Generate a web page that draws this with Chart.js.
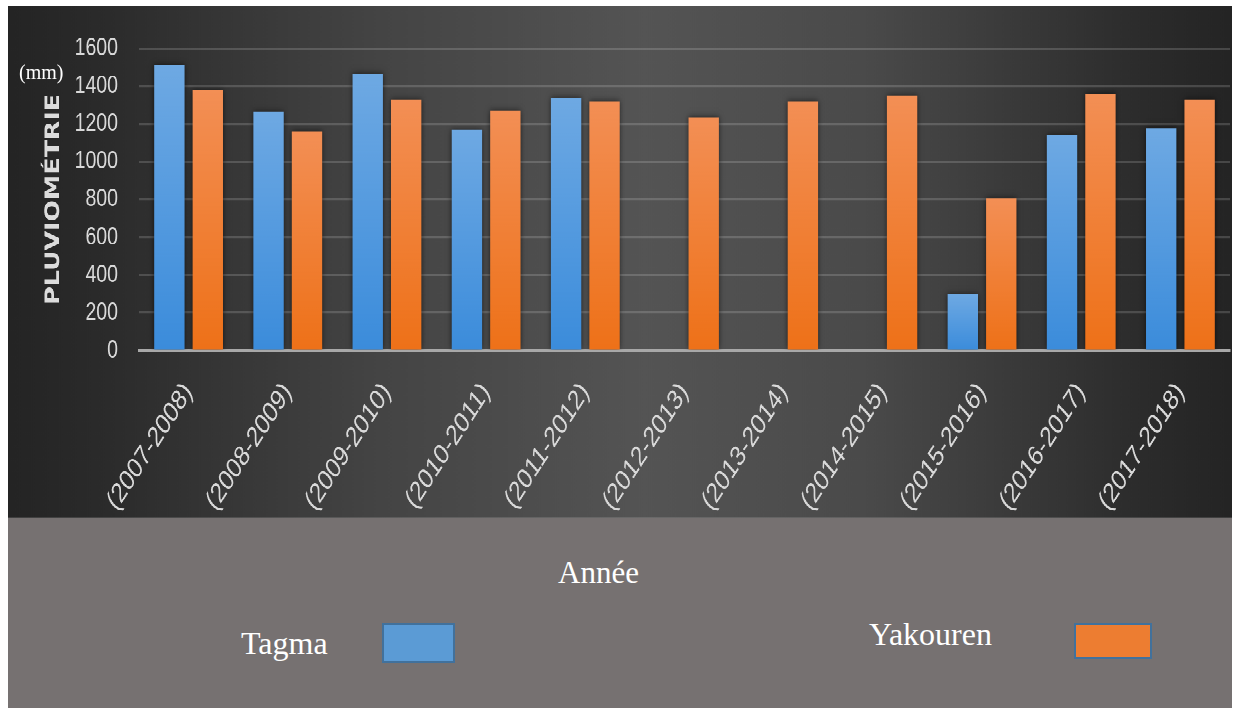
<!DOCTYPE html>
<html>
<head>
<meta charset="utf-8">
<script src="https://cdn.jsdelivr.net/npm/chart.js@4.4.1/dist/chart.umd.min.js"></script>
<style>
  html, body { margin: 0; padding: 0; background: #ffffff; width: 1242px; height: 709px; overflow: hidden; }
  /* chart panel: drawn at natural size, then stretched vertically */
  #plot {
    position: absolute; left: 8px; top: 6px; width: 1224px; height: 394px;
    transform-origin: 0 0; transform: scaleY(1.2995);
    background: linear-gradient(to right, #242424 0%, #2b2b2b 8%, #444444 30%, #545454 52%, #4a4a4a 70%, #2b2b2b 93%, #242424 100%);
  }
  #bottomPanel { position: absolute; left: 8px; top: 518px; width: 1224px; height: 190px; background: #767171; }
  .txt { position: absolute; color: #ffffff; font-family: "Liberation Serif", "Times New Roman", serif; line-height: 1; white-space: nowrap; }
  .key { position: absolute; box-sizing: border-box; border: 2px solid #41719c; }
</style>
</head>
<body>
<div id="plot"><canvas id="chart"></canvas></div>
<div class="txt" style="left:19px; top:62px; font-size:20px;">(mm)</div>
<div id="bottomPanel"></div>
<div class="txt" style="left:558px; top:557px; font-size:31px;">Année</div>
<div class="txt" style="left:241px; top:627px; font-size:32px;">Tagma</div>
<div class="key" id="keyTagma" style="left:382px; top:623px; width:73px; height:40px;"></div>
<div class="txt" style="left:869px; top:618px; font-size:32px;">Yakouren</div>
<div class="key" id="keyYakouren" style="left:1074px; top:623px; width:78px; height:36px;"></div>

<script>
// Hydrological years
const categories = ['(2007-2008)', '(2008-2009)', '(2009-2010)', '(2010-2011)', '(2011-2012)', '(2012-2013)',
                    '(2013-2014)', '(2014-2015)', '(2015-2016)', '(2016-2017)', '(2017-2018)'];
// Annual rainfall (mm) per station; null = no record
const tagma    = [1512, 1265, 1466, 1168, 1339, null, null, null, 296, 1140, 1177];
const yakouren = [1378, 1159, 1330, 1272, 1321, 1235, 1321, 1351, 805, 1360, 1330];
// Value axis ticks and their labels
const yTicks = [0, 200, 400, 600, 800, 1000, 1200, 1400, 1600];
const yTickLabels = ['0', '200', '400', '600', '800', '1000', '1200', '1400', '1600'];

const seriesNames = ['Tagma', 'Yakouren'];
const blueTop = '#6ea9e3', blueBottom = '#3b8cdb', blueSolid = '#5b9bd5';
const orangeTop = '#f38f55', orangeBottom = '#ee7118', orangeSolid = '#ed7d31';

document.getElementById('keyTagma').style.background = blueSolid;
document.getElementById('keyYakouren').style.background = orangeSolid;

// per-bar vertical gradient, lighter at the top of each bar
function barFill(top, bottom) {
  return (ctx) => {
    const chart = ctx.chart;
    if (!chart.chartArea || ctx.type !== 'data' || ctx.raw == null) return bottom;
    const y = chart.scales.y;
    const g = chart.ctx.createLinearGradient(0, y.getPixelForValue(ctx.raw), 0, y.getPixelForValue(0));
    g.addColorStop(0, top);
    g.addColorStop(1, bottom);
    return g;
  };
}

// soft dark halo around the bars
const barShadow = {
  id: 'barShadow',
  beforeDatasetsDraw(chart) {
    const c = chart.ctx;
    c.save();
    c.shadowColor = 'rgba(0,0,0,0.6)';
    c.shadowBlur = 10;
    c.shadowOffsetX = 0;
    c.shadowOffsetY = 0;
  },
  afterDatasetsDraw(chart) { chart.ctx.restore(); }
};

const tickColor = '#d9d9d9';

new Chart(document.getElementById('chart'), {
  type: 'bar',
  data: {
    labels: categories,
    datasets: [
      { label: seriesNames[0], data: tagma, backgroundColor: barFill(blueTop, blueBottom),
        categoryPercentage: 0.775, barPercentage: 0.79 },
      { label: seriesNames[1], data: yakouren, backgroundColor: barFill(orangeTop, orangeBottom),
        categoryPercentage: 0.775, barPercentage: 0.79 }
    ]
  },
  options: {
    responsive: true,
    maintainAspectRatio: false,
    animation: false,
    devicePixelRatio: 2,
    layout: { padding: { left: 0, right: 2, top: 32, bottom: 0 } },
    plugins: { legend: { display: false }, tooltip: { enabled: false }, title: { display: false } },
    scales: {
      x: {
        z: 1,
        grid: { display: false, drawTicks: false },
        border: { display: true, color: '#a8a8a8', width: 2.4 },
        ticks: {
          color: tickColor, autoSkip: false, minRotation: 50, maxRotation: 50, padding: 20,
          font: { family: '"Liberation Sans", Arial, sans-serif', size: 22 }
        },
        afterFit: (s) => { s.height = 129; }
      },
      y: {
        min: 0, max: 1600,
        afterBuildTicks: (s) => { s.ticks = yTicks.map(v => ({ value: v })); },
        grid: {
          drawTicks: false,
          color: (c) => c.tick && c.tick.value === 0 ? 'rgba(0,0,0,0)' : 'rgba(255,255,255,0.16)',
          lineWidth: 1.6
        },
        border: { display: false },
        ticks: {
          color: tickColor, padding: 21,
          font: { family: '"Liberation Sans", Arial, sans-serif', size: 19.5 },
          callback: (value) => yTickLabels[yTicks.indexOf(value)] ?? String(value)
        },
        title: {
          display: true, text: 'PLUVIOMÉTRIE', color: '#dcdcdc',
          font: { family: '"DejaVu Sans", sans-serif', size: 19.5, weight: 'bold' },
          padding: { top: 34, bottom: 0 }
        },
        afterFit: (s) => { s.width = 131; }
      }
    }
  },
  plugins: [barShadow]
});
</script>
</body>
</html>
